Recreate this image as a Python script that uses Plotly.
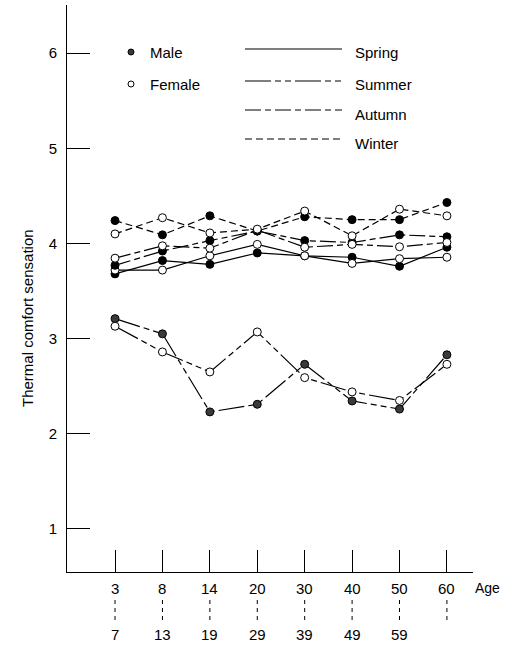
import plotly.graph_objects as go

ages_top = ["3", "8", "14", "20", "30", "40", "50", "60"]
ages_bottom = ["7", "13", "19", "29", "39", "49", "59", ""]

spring_m = [3.68, 3.82, 3.78, 3.90, 3.87, 3.855, 3.76, 3.96]
spring_f = [3.72, 3.72, 3.87, 3.99, 3.87, 3.79, 3.84, 3.855]
summer_m = [3.21, 3.05, 2.23, 2.31, 2.73, 2.345, 2.26, 2.83]
summer_f = [3.13, 2.86, 2.65, 3.07, 2.59, 2.44, 2.35, 2.73]
autumn_m = [3.77, 3.92, 4.03, 4.13, 4.03, 4.01, 4.09, 4.07]
autumn_f = [3.845, 3.975, 3.95, 4.14, 3.96, 3.99, 3.965, 4.01]
winter_m = [4.24, 4.09, 4.29, 4.13, 4.28, 4.25, 4.25, 4.43]
winter_f = [4.10, 4.27, 4.11, 4.15, 4.34, 4.08, 4.36, 4.29]

seasons = ["Spring", "Summer", "Autumn", "Winter"]
dashes = {
    "Spring": "solid",
    "Summer": "26px,4px,6px,4px,6px,4px",
    "Autumn": "16px,4px,6px,4px",
    "Winter": "7px,4px",
}
series = [
    ("Spring", "Male", spring_m), ("Spring", "Female", spring_f),
    ("Summer", "Male", summer_m), ("Summer", "Female", summer_f),
    ("Autumn", "Male", autumn_m), ("Autumn", "Female", autumn_f),
    ("Winter", "Male", winter_m), ("Winter", "Female", winter_f),
]

W, H = 514, 649
L, R, T, B = 67, 41, 5, 77
PW, PH = W - L - R, H - T - B


def pxx(px):
    return (px - L) / PW


def pxy(py):
    return (H - B - py) / PH


FONT = "Liberation Sans, Arial, sans-serif"
xs = list(range(len(ages_top)))

fig = go.Figure()
for season, sex, vals in series:
    male = sex == "Male"
    fill = ("#3a3a3a" if season == "Summer" else "black") if male else "white"
    fig.add_trace(go.Scatter(
        x=xs, y=vals, mode="lines+markers",
        line=dict(color="black", width=1.2, dash=dashes[season]),
        marker=dict(size=8, color=fill, line=dict(color="black", width=1)),
        showlegend=False, hoverinfo="skip",
    ))

shapes = []
annotations = []

TOP_Y, DASH0, DASH1, BOT_Y = 588, 600, 621, 634

# x-axis category labels with dashed connectors
for i, (a, b) in enumerate(zip(ages_top, ages_bottom)):
    annotations.append(dict(x=i, y=pxy(TOP_Y), xref="x", yref="paper", text=a,
                            showarrow=False, font=dict(size=15, family=FONT, color="black"),
                            xanchor="center", yanchor="middle"))
    shapes.append(dict(type="line", xref="x", yref="paper", x0=i, x1=i,
                       y0=pxy(DASH0), y1=pxy(DASH1),
                       line=dict(color="black", width=1, dash="4px,4px")))
    if b:
        annotations.append(dict(x=i, y=pxy(BOT_Y), xref="x", yref="paper", text=b,
                                showarrow=False, font=dict(size=15, family=FONT, color="black"),
                                xanchor="center", yanchor="middle"))

annotations.append(dict(x=pxx(487), y=pxy(TOP_Y), xref="paper", yref="paper", text="Age",
                        showarrow=False, font=dict(size=14, family=FONT, color="black"),
                        xanchor="center", yanchor="middle"))

annotations.append(dict(x=pxx(27), y=pxy(318), xref="paper", yref="paper",
                        text="Thermal comfort sensation", textangle=-90,
                        showarrow=False, font=dict(size=15, family=FONT, color="black"),
                        xanchor="center", yanchor="middle"))

# custom legend: sex markers
sex_items = [("Male", 52, "#3a3a3a"), ("Female", 84, "white")]
for name, py, fill in sex_items:
    r = 3
    shapes.append(dict(type="circle", xref="paper", yref="paper",
                       x0=pxx(131 - r), x1=pxx(131 + r), y0=pxy(py + r), y1=pxy(py - r),
                       fillcolor=fill, line=dict(color="black", width=1)))
    annotations.append(dict(x=pxx(148), y=pxy(py), xref="paper", yref="paper", text=name,
                            showarrow=False, font=dict(size=15, family=FONT, color="black"),
                            xanchor="left", yanchor="middle"))

# custom legend: season line styles
season_rows = [("Spring", 49, 52), ("Summer", 81, 84), ("Autumn", 110, 114), ("Winter", 139, 143)]
for name, ly, ty in season_rows:
    shapes.append(dict(type="line", xref="paper", yref="paper",
                       x0=pxx(245), x1=pxx(342), y0=pxy(ly), y1=pxy(ly),
                       line=dict(color="black", width=1.2, dash=dashes[name])))
    annotations.append(dict(x=pxx(353), y=pxy(ty), xref="paper", yref="paper", text=name,
                            showarrow=False, font=dict(size=15, family=FONT, color="black"),
                            xanchor="left", yanchor="middle"))

fig.update_layout(
    width=W, height=H,
    margin=dict(l=L, r=R, t=T, b=B),
    paper_bgcolor="white", plot_bgcolor="white",
    font=dict(family=FONT, color="black"),
    shapes=shapes, annotations=annotations,
    showlegend=False,
)
fig.update_xaxes(range=[-1.013, 7.55], tickvals=xs, showticklabels=False,
                 ticks="inside", ticklen=22, tickwidth=1, tickcolor="black",
                 showline=True, linecolor="black", linewidth=1,
                 showgrid=False, zeroline=False)
fig.update_yaxes(range=[0.548, 6.505], tickvals=[1, 2, 3, 4, 5, 6],
                 ticks="inside", ticklen=23, tickwidth=1, tickcolor="black",
                 tickfont=dict(size=15, family=FONT, color="black"),
                 ticklabelstandoff=6,
                 showline=True, linecolor="black", linewidth=1,
                 showgrid=False, zeroline=False)

fig.write_html("out.html")
